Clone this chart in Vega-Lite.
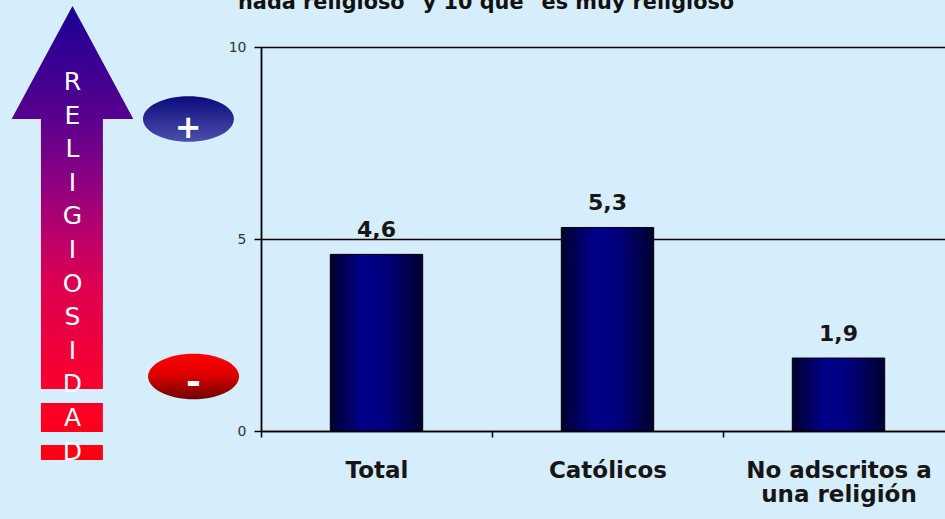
{
  "$schema": "https://vega.github.io/schema/vega-lite/v6.json",
  "width": 684,
  "height": 384,
  "autosize": {"type": "none"},
  "padding": {"left": 261, "top": 47, "right": 0, "bottom": 88},
  "background": "#d6edfc",
  "config": {
    "view": {"stroke": null},
    "locale": {"number": {"decimal": ",", "thousands": ".", "grouping": [3], "currency": ["", " €"]}}
  },
  "resolve": {"scale": {"x": "independent"}},
  "layer": [
    {
      "data": {"values": [
        {"grupo": "Total", "valor": 4.6},
        {"grupo": "Católicos", "valor": 5.3},
        {"grupo": "No adscritos a una religión", "valor": 1.9}
      ]},
      "encoding": {
        "x": {
          "field": "grupo", "type": "nominal", "sort": null,
          "scale": {"range": [0, 693], "paddingInner": 0, "paddingOuter": 0},
          "axis": {
            "title": null, "labelAngle": 0, "tickBand": "extent", "grid": false,
            "domainColor": "#000000", "domainWidth": 1.5,
            "tickColor": "#000000", "tickWidth": 1.5, "tickSize": 6,
            "labelFont": "DejaVu Sans", "labelFontSize": 23, "labelFontWeight": "bold",
            "labelColor": "#161616", "labelPadding": 22, "labelLineHeight": 24,
            "labelLimit": 400, "labelOverlap": false,
            "labelExpr": "datum.label == 'No adscritos a una religión' ? ['No adscritos a', 'una religión'] : datum.label"
          }
        },
        "y": {
          "field": "valor", "type": "quantitative",
          "scale": {"domain": [0, 10]},
          "axis": {
            "title": null, "values": [0, 5, 10], "grid": true,
            "gridColor": "#000000", "gridWidth": 1.3, "gridOpacity": 1,
            "domainColor": "#000000", "domainWidth": 1.8,
            "tickColor": "#000000", "tickWidth": 1.5, "tickSize": 7,
            "labelFont": "DejaVu Sans", "labelFontSize": 14, "labelColor": "#333333", "labelPadding": 8
          }
        }
      },
      "layer": [
        {
          "mark": {
            "type": "bar",
            "width": {"band": 0.4},
            "stroke": "#000000", "strokeWidth": 1,
            "fill": {
              "gradient": "linear", "x1": 0, "y1": 0, "x2": 1, "y2": 0,
              "stops": [
                {"offset": 0, "color": "#00002e"},
                {"offset": 0.35, "color": "#00008a"},
                {"offset": 0.6, "color": "#00007e"},
                {"offset": 1, "color": "#00002e"}
              ]
            }
          }
        },
        {
          "mark": {"type": "text", "dy": -17, "baseline": "alphabetic", "font": "DejaVu Sans", "fontSize": 22, "fontWeight": "bold", "color": "#161616"},
          "encoding": {"text": {"field": "valor", "type": "quantitative", "format": ".1f"}}
        }
      ]
    },
    {
      "data": {"values": [{}]},
      "mark": {
        "type": "text", "text": "nada religioso\" y 10 que \"es muy religioso",
        "align": "left", "baseline": "alphabetic", "font": "DejaVu Sans", "fontSize": 20.8, "fontWeight": "bold", "color": "#111111"
      },
      "encoding": {
        "x": {"datum": 0.2519, "type": "quantitative", "scale": {"domain": [0, 1], "range": [-261, 684]}, "axis": null},
        "y": {"datum": 11.0, "type": "quantitative", "scale": {"domain": [0, 10]}}
      }
    },
    {
      "data": {"values": [{}]},
      "mark": {
        "type": "point", "filled": true, "opacity": 1, "strokeWidth": 0,
        "shape": "M0,-1L0.268,-0.502L0.134,-0.502L0.134,0.687L-0.139,0.687L-0.139,-0.502L-0.268,-0.502Z M-0.139,0.749L0.134,0.749L0.134,0.877L-0.139,0.877Z M-0.139,0.934L0.134,0.934L0.134,1L-0.139,1Z",
        "size": 206116,
        "fill": {
          "gradient": "linear", "x1": 0, "y1": 0, "x2": 0, "y2": 1,
          "stops": [
            {"offset": 0, "color": "#1a0096"},
            {"offset": 0.25, "color": "#5a008e"},
            {"offset": 0.38, "color": "#8a0082"},
            {"offset": 0.5, "color": "#b8006c"},
            {"offset": 0.61, "color": "#dc0050"},
            {"offset": 0.82, "color": "#f70032"},
            {"offset": 1, "color": "#ff0010"}
          ]
        }
      },
      "encoding": {
        "x": {"datum": 0.0767, "type": "quantitative", "scale": {"domain": [0, 1], "range": [-261, 684]}, "axis": null},
        "y": {"datum": 5.156, "type": "quantitative", "scale": {"domain": [0, 10]}}
      }
    },
    {
      "data": {"values": [{}]},
      "mark": {
        "type": "text", "text": "R E L I G I O S I D A D", "lineBreak": " ", "lineHeight": 33.6,
        "align": "center", "baseline": "top", "font": "DejaVu Sans", "fontSize": 25, "color": "#ffffff"
      },
      "encoding": {
        "x": {"datum": 0.0767, "type": "quantitative", "scale": {"domain": [0, 1], "range": [-261, 684]}, "axis": null},
        "y": {"datum": 9.401, "type": "quantitative", "scale": {"domain": [0, 10]}}
      }
    },
    {
      "data": {"values": [{}]},
      "mark": {
        "type": "point", "filled": true, "opacity": 1, "strokeWidth": 0,
        "shape": "M-1,0A1,0.5,0,1,1,1,0A1,0.5,0,1,1,-1,0Z",
        "size": 8281,
        "fill": {
          "gradient": "linear", "x1": 0, "y1": 0, "x2": 0, "y2": 1,
          "stops": [
            {"offset": 0, "color": "#0b0b7c"},
            {"offset": 1, "color": "#4b4fab"}
          ]
        }
      },
      "encoding": {
        "x": {"datum": 0.1994, "type": "quantitative", "scale": {"domain": [0, 1], "range": [-261, 684]}, "axis": null},
        "y": {"datum": 8.125, "type": "quantitative", "scale": {"domain": [0, 10]}}
      }
    },
    {
      "data": {"values": [{}]},
      "mark": {"type": "text", "text": "+", "align": "center", "baseline": "middle", "font": "DejaVu Sans", "fontSize": 32, "fontWeight": "bold", "color": "#ffffff"},
      "encoding": {
        "x": {"datum": 0.199, "type": "quantitative", "scale": {"domain": [0, 1], "range": [-261, 684]}, "axis": null},
        "y": {"datum": 7.9, "type": "quantitative", "scale": {"domain": [0, 10]}}
      }
    },
    {
      "data": {"values": [{}]},
      "mark": {
        "type": "point", "filled": true, "opacity": 1, "strokeWidth": 0,
        "shape": "M-1,0A1,0.5,0,1,1,1,0A1,0.5,0,1,1,-1,0Z",
        "size": 8281,
        "fill": {
          "gradient": "linear", "x1": 0, "y1": 0, "x2": 0, "y2": 1,
          "stops": [
            {"offset": 0, "color": "#ff0000"},
            {"offset": 0.45, "color": "#e00000"},
            {"offset": 1, "color": "#6e0000"}
          ]
        }
      },
      "encoding": {
        "x": {"datum": 0.2048, "type": "quantitative", "scale": {"domain": [0, 1], "range": [-261, 684]}, "axis": null},
        "y": {"datum": 1.419, "type": "quantitative", "scale": {"domain": [0, 10]}}
      }
    },
    {
      "data": {"values": [{}]},
      "mark": {"type": "text", "text": "-", "align": "center", "baseline": "middle", "font": "DejaVu Sans", "fontSize": 36, "fontWeight": "bold", "color": "#ffffff"},
      "encoding": {
        "x": {"datum": 0.2048, "type": "quantitative", "scale": {"domain": [0, 1], "range": [-261, 684]}, "axis": null},
        "y": {"datum": 1.25, "type": "quantitative", "scale": {"domain": [0, 10]}}
      }
    }
  ]
}
